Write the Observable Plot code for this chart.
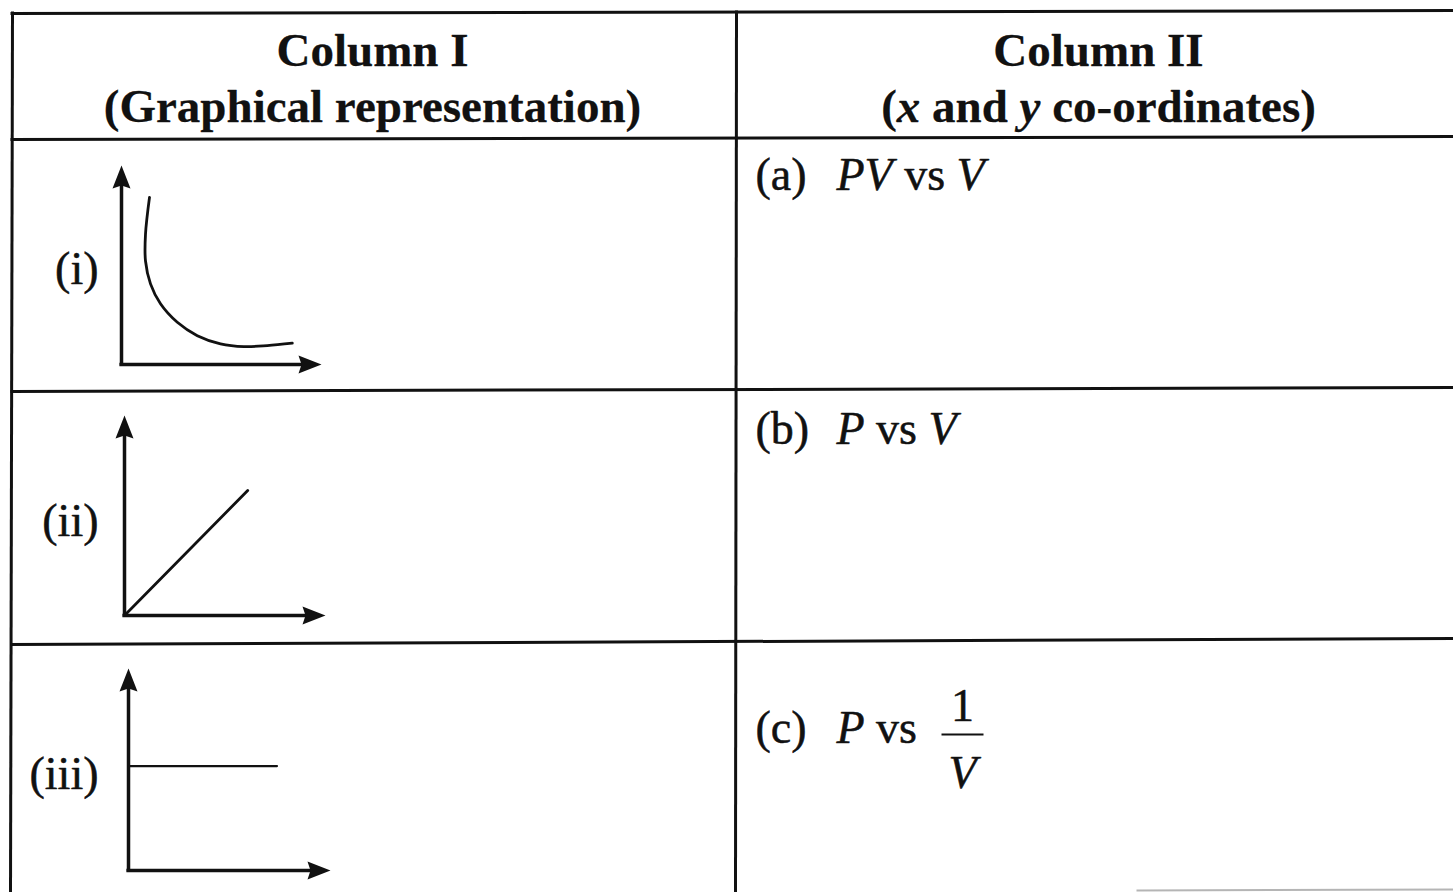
<!DOCTYPE html>
<html>
<head>
<meta charset="utf-8">
<script src="https://cdn.jsdelivr.net/npm/d3@7"></script>
<script src="https://cdn.jsdelivr.net/npm/@observablehq/plot@0.6"></script>
<style>
  html, body { margin: 0; padding: 0; background: #fff; overflow: hidden; }
  #page { position: relative; width: 1453px; height: 892px; background: #fff; }
</style>
</head>
<body>
<div id="page"></div>
<script>
// ================= DATA (content) =================
const columnHeaders = ["Column I", "Column II"];
const columnSubheaders = [
  [{t: "(Graphical representation)"}],
  [{t: "("}, {t: "x", i: true}, {t: " and "}, {t: "y", i: true}, {t: " co-ordinates)"}]
];
const graphLabels = ["(i)", "(ii)", "(iii)"];
const optionLetters = ["(a)", "(b)", "(c)"];
const optionTerms = [
  [{t: "PV", i: true}, {t: " vs "}, {t: "V", i: true}],
  [{t: "P", i: true}, {t: " vs "}, {t: "V", i: true}],
  [{t: "P", i: true}, {t: " vs "}]
];
const fractionNumerator = "1";
const fractionDenominator = "V";

// graph (i): falling curve (axis units 0–10)
const curveV = [1.40, 1.20, 1.20, 1.45, 1.95, 2.79, 3.79, 4.95, 6.12, 7.29, 8.54];
const curveP = [8.40, 6.55, 5.20, 4.05, 3.05, 2.12, 1.45, 1.04, 0.90, 0.95, 1.07];
// graph (ii): straight line through the origin
const slopeX = [0, 6.13];
const slopeY = [0, 6.25];
// graph (iii): horizontal line
const flatX = [0, 7.35];
const flatY = [5.17, 5.17];

// ================= LAYOUT =================
const W = 1453, H = 892;
const INK = "#111";
const FAMILY = "Liberation Serif, Times New Roman, serif";
const CANVAS_FAMILY = '"Liberation Serif", "Times New Roman", serif';

const gridLines = [
  {x1: 10, y1: 13, x2: W, y2: 10},     // top border
  {x1: 10, y1: 139, x2: W, y2: 136},   // under header
  {x1: 10, y1: 391, x2: W, y2: 387},   // row 1 / row 2
  {x1: 10, y1: 644, x2: W, y2: 638},   // row 2 / row 3
  {x1: 12, y1: 11, x2: 10, y2: H},     // left border
  {x1: 736, y1: 10, x2: 735, y2: H}    // column divider
];
const faintLines = [{x1: 1136, y1: 890, x2: W, y2: 889}];

const headerPos = [{cx: 372, y1: 65, y2: 121}, {cx: 1098, y1: 65, y2: 121}];
const labelRight = 98;
const labelBaselines = [283, 535, 788];
const optionLetterX = 755;
const optionTermX = 836;
const optionBaselines = [189, 443, 742];
const fractionPos = {cx: 962, numY: 720, barY: 734, barHalf: 21, denY: 787};

const graphPos = [
  {ox: 121, oy: 364, sx: 200, sy: 199},
  {ox: 124, oy: 615, sx: 201, sy: 200},
  {ox: 128, oy: 870, sx: 202, sy: 202}
];

// ================= TEXT LAYOUT HELPERS =================
const ctx = document.createElement("canvas").getContext("2d");
function measure(t, size, weight, italic) {
  ctx.font = `${italic ? "italic " : ""}${weight} ${size}px ${CANVAS_FAMILY}`;
  return ctx.measureText(t).width;
}
const textItems = [];
function placeRuns(runs, {x, y, anchor = "start", size, weight = "normal"}) {
  const widths = runs.map(r => measure(r.t, size, weight, !!r.i));
  const total = d3.sum(widths);
  let cur = anchor === "middle" ? x - total / 2 : anchor === "end" ? x - total : x;
  runs.forEach((r, k) => {
    const lead = r.t.length - r.t.trimStart().length;
    const leadW = lead ? measure(r.t.slice(0, lead), size, weight, !!r.i) : 0;
    const tr = r.t.trim();
    if (tr) textItems.push({x: cur + leadW, y, t: tr, size, weight, italic: !!r.i});
    cur += widths[k];
  });
}

// headers
columnHeaders.forEach((h, k) => {
  placeRuns([{t: h}], {x: headerPos[k].cx, y: headerPos[k].y1, anchor: "middle", size: 47, weight: "bold"});
  placeRuns(columnSubheaders[k], {x: headerPos[k].cx, y: headerPos[k].y2, anchor: "middle", size: 47, weight: "bold"});
});
// row labels
graphLabels.forEach((l, k) => {
  placeRuns([{t: l}], {x: labelRight, y: labelBaselines[k], anchor: "end", size: 46});
});
// options
optionLetters.forEach((l, k) => {
  placeRuns([{t: l}], {x: optionLetterX, y: optionBaselines[k], size: 46});
  placeRuns(optionTerms[k], {x: optionTermX, y: optionBaselines[k], size: 46});
});
// fraction 1/V
placeRuns([{t: fractionNumerator}], {x: fractionPos.cx, y: fractionPos.numY, anchor: "middle", size: 46});
placeRuns([{t: fractionDenominator, i: true}], {x: fractionPos.cx, y: fractionPos.denY, anchor: "middle", size: 46});

function textMarks() {
  const combos = [["normal", false], ["normal", true], ["bold", false], ["bold", true]];
  return combos.map(([w, it]) => Plot.text(
    textItems.filter(d => d.weight === w && d.italic === it),
    {x: "x", y: "y", text: "t", fontSize: "size", fontWeight: w, fontStyle: it ? "italic" : "normal",
     fontFamily: FAMILY, textAnchor: "start", lineAnchor: "bottom", fill: INK,
     stroke: INK, strokeWidth: w === "bold" ? 0.3 : 0.6, strokeOpacity: 0.9}
  ));
}

// ================= MAIN TABLE =================
const page = document.getElementById("page");
const main = Plot.plot({
  width: W, height: H, margin: 0,
  x: {domain: [0, W], range: [0, W], axis: null},
  y: {domain: [0, H], range: [0, H], axis: null},
  style: "position:absolute;left:0;top:0;background:#fff;max-width:none;",
  marks: [
    Plot.link(gridLines, {x1: "x1", y1: "y1", x2: "x2", y2: "y2", stroke: INK, strokeWidth: 3}),
    Plot.link(faintLines, {x1: "x1", y1: "y1", x2: "x2", y2: "y2", stroke: "#b5b5b5", strokeWidth: 2}),
    Plot.link([fractionPos], {x1: d => d.cx - d.barHalf, x2: d => d.cx + d.barHalf, y1: "barY", y2: "barY", stroke: INK, strokeWidth: 2}),
    ...textMarks()
  ]
});
page.append(main);

// ================= MINI GRAPHS =================
const arrowUp = {draw(c) { c.moveTo(0, 0); c.lineTo(-9, 23); c.lineTo(0, 20); c.lineTo(9, 23); c.closePath(); }};
const arrowRight = {draw(c) { c.moveTo(0, 0); c.lineTo(-23, -9); c.lineTo(-20, 0); c.lineTo(-23, 9); c.closePath(); }};

function miniGraph(g, marks) {
  const mL = 15, mR = 6, mT = 6, mB = 15;
  const svg = Plot.plot({
    width: mL + g.sx + mR, height: mT + g.sy + mB,
    marginLeft: mL, marginRight: mR, marginTop: mT, marginBottom: mB,
    x: {domain: [0, 10], axis: null},
    y: {domain: [0, 10], axis: null},
    style: `position:absolute;left:${g.ox - mL}px;top:${g.oy - g.sy - mT}px;background:transparent;overflow:visible;max-width:none;`,
    marks: [
      ...marks,
      Plot.ruleX([0], {y1: -0.08, y2: 9.2, stroke: INK, strokeWidth: 3.5}),
      Plot.ruleY([0], {x1: -0.08, x2: 9.2, stroke: INK, strokeWidth: 3.5}),
      Plot.dot([{x: 0, y: 10}], {x: "x", y: "y", symbol: arrowUp, r: 10, fill: INK}),
      Plot.dot([{x: 10, y: 0}], {x: "x", y: "y", symbol: arrowRight, r: 10, fill: INK})
    ]
  });
  page.append(svg);
}

miniGraph(graphPos[0], [
  Plot.line(curveV.map((v, k) => ({v, p: curveP[k]})), {x: "v", y: "p", curve: "catmull-rom", stroke: INK, strokeWidth: 2.8})
]);
miniGraph(graphPos[1], [
  Plot.line(slopeX.map((v, k) => ({v, p: slopeY[k]})), {x: "v", y: "p", stroke: INK, strokeWidth: 2.8})
]);
miniGraph(graphPos[2], [
  Plot.line(flatX.map((v, k) => ({v, p: flatY[k]})), {x: "v", y: "p", stroke: INK, strokeWidth: 2.2})
]);
</script>
</body>
</html>
